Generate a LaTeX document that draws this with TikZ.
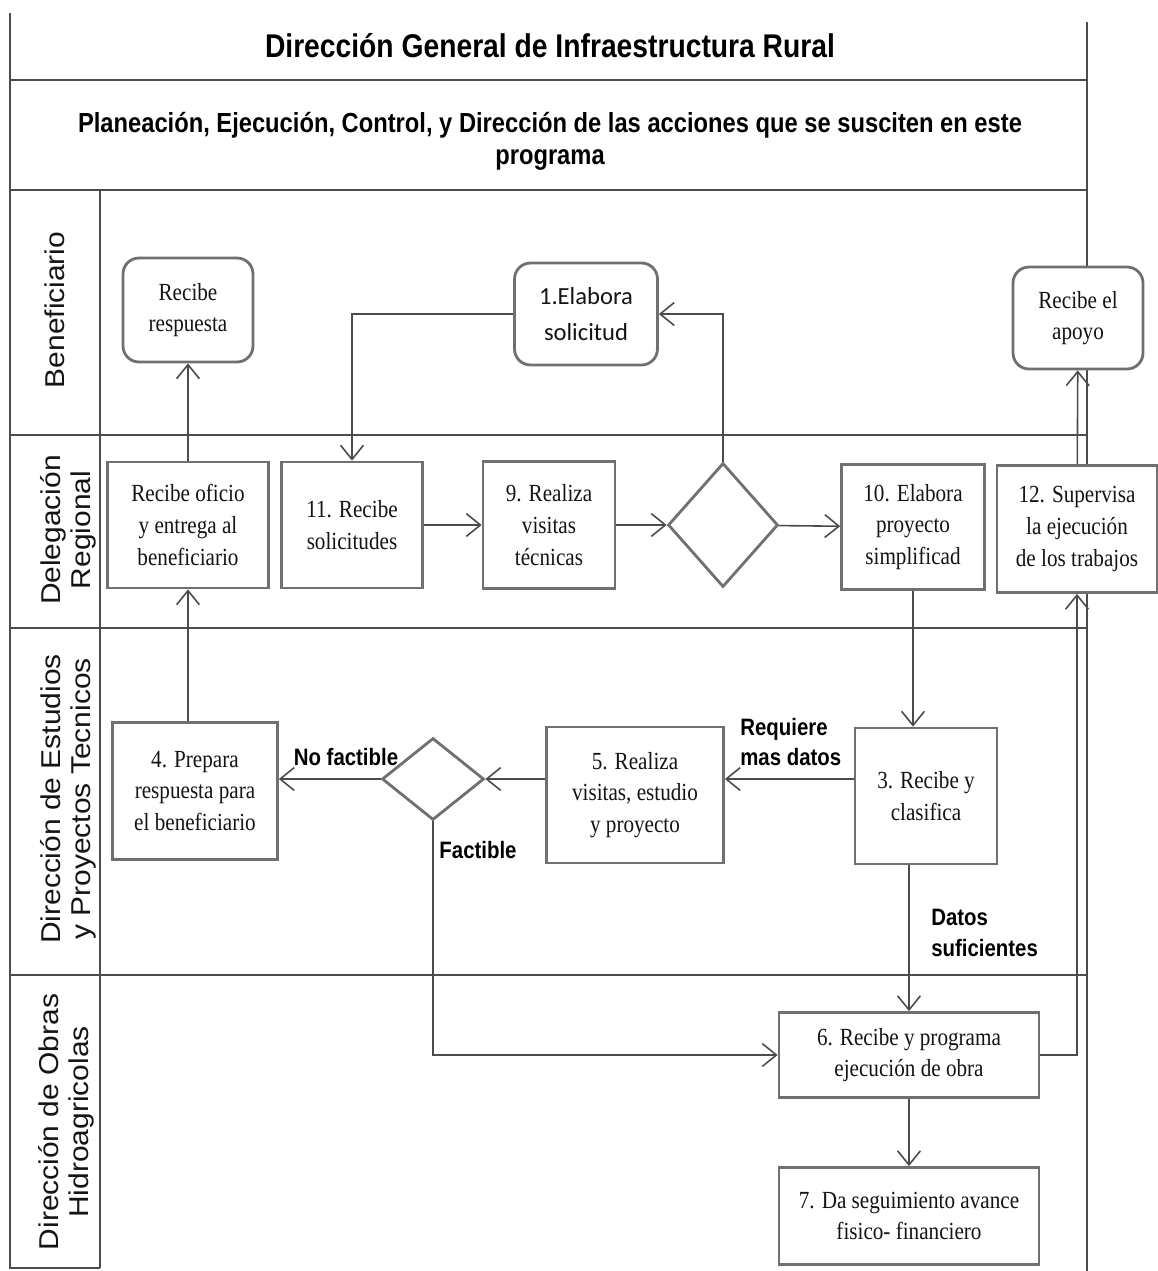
\documentclass[tikz,border=0pt]{standalone}
\usepackage{fontspec}
\setmainfont{Liberation Serif}
\newfontfamily\cajafont[FakeStretch=0.86]{Liberation Serif}
\newfontfamily\rotfont[FakeStretch=0.86]{Liberation Sans}
\newfontfamily\carrilfont[FakeStretch=1.1]{Liberation Sans}
\newfontfamily\calfont{Carlito}
\usetikzlibrary{shapes.geometric,arrows.meta}
\definecolor{bordegris}{RGB}{112,112,112}
\definecolor{lineagris}{RGB}{75,75,75}
\definecolor{textogris}{RGB}{20,20,20}
\tikzset{
  paso/.style={draw=bordegris, fill=white, line width=1.6pt, align=center, text=textogris,
    font=\cajafont\fontsize{14}{18}\selectfont, inner sep=2pt},
  pasor/.style={paso, rounded corners=0.32cm},
  decision/.style={draw=bordegris, fill=white, line width=1.6pt, diamond, inner sep=0pt},
  flecha/.style={draw=lineagris, line width=0.9pt,
    -{Straight Barb[length=8pt,width=13pt]}},
  carril/.style={rotate=90, align=center, text=textogris,
    font=\carrilfont\fontsize{15.5}{17}\selectfont},
  etiqueta/.style={font=\rotfont\bfseries\fontsize{13.5}{17.5}\selectfont,
    align=left, inner sep=0pt},
  marco/.style={draw=lineagris, line width=1.2pt}
}
\begin{document}
\begin{tikzpicture}[x=0.02cm, y=-0.02cm]
\useasboundingbox (0,0) rectangle (1157,1271);
% marco y carriles
\draw[marco] (10,13) -- (10,1268) -- (100,1268);
\draw[marco] (1087,22) -- (1087,1271);
\foreach \yy in {80,190,435,628,975}
  \draw[marco] (10,\yy) -- (1087,\yy);
\draw[marco] (100,190) -- (100,1268);

% encabezado
\node[font=\rotfont\bfseries\fontsize{18.7}{22}\selectfont] (titulo) at (550,46)
  {Dirección General de Infraestructura Rural};
\node[align=center, font=\rotfont\bfseries\fontsize{15.7}{18.2}\selectfont] (subtitulo) at (550,141)
  {Planeación, Ejecución, Control, y Dirección de las acciones que se susciten en este\\programa};

% nombres de carriles
\node[carril] (lbenef) at (55,310) {Beneficiario};
\node[carril] (ldeleg) at (68,530) {Delegación\\Regional};
\node[carril] (lestud) at (68,799) {Dirección de Estudios\\y Proyectos Tecnicos};
\node[carril] (lobras) at (66,1122) {Dirección de Obras\\Hidroagricolas};

% Beneficiario
\node[pasor, minimum width=2.6cm, minimum height=2.08cm] (respuesta) at (188,310) {Recibe\\respuesta};
\node[pasor, minimum width=2.86cm, minimum height=2.04cm,
  font=\calfont\fontsize{14}{21}\selectfont] (solicitud) at (586,314) {1.Elabora\\solicitud};
\node[pasor, minimum width=2.6cm, minimum height=2.04cm] (apoyo) at (1078,318) {Recibe el\\apoyo};

% Delegacion Regional
\node[paso, minimum width=3.22cm, minimum height=2.52cm] (oficio) at (188,525) {Recibe oficio\\y entrega al\\beneficiario};
\node[paso, minimum width=2.82cm, minimum height=2.52cm] (recibe11) at (352,525) {11. Recibe\\solicitudes};
\node[paso, minimum width=2.64cm, minimum height=2.54cm] (visitas9) at (549,525) {9. Realiza\\visitas\\técnicas};
\node[decision, minimum width=2.2cm, minimum height=2.48cm] (dec1) at (723,525) {};
\node[paso, minimum width=2.86cm, minimum height=2.5cm] (proy10) at (913,527) {10. Elabora\\proyecto\\simplificad};
\node[paso, minimum width=3.2cm, minimum height=2.54cm] (super12) at (1077,529) {12. Supervisa\\la ejecución\\de los trabajos};

% Direccion de Estudios
\node[paso, minimum width=3.3cm, minimum height=2.74cm] (prepara) at (195,791) {4. Prepara\\respuesta para\\el beneficiario};
\node[decision, minimum width=2.04cm, minimum height=1.64cm] (dec2) at (433,779) {};
\node[paso, minimum width=3.54cm, minimum height=2.72cm] (visitas5) at (635,795) {5. Realiza\\visitas, estudio\\y proyecto};
\node[paso, minimum width=2.84cm, minimum height=2.72cm] (clasif) at (926,796) {3. Recibe y\\clasifica};

% Direccion de Obras
\node[paso, minimum width=5.2cm, minimum height=1.7cm] (obra6) at (909,1055) {6. Recibe y programa\\ejecución de obra};
\node[paso, minimum width=5.2cm, minimum height=1.94cm] (segui7) at (909,1216) {7. Da seguimiento avance\\fisico- financiero};

% etiquetas
\node[etiqueta] (nofact) at (346,757) {No factible};
\node[etiqueta] (fact) at (478,850) {Factible};
\node[etiqueta, anchor=west] (masdatos) at (740,742) {Requiere\\mas datos};
\node[etiqueta, anchor=west] (suficientes) at (931,933) {Datos\\suficientes};

% conectores
\draw[flecha] (oficio) -- (respuesta);
\draw[flecha] (prepara.north -| oficio) -- (oficio);
\draw[flecha] (solicitud.west) -| (recibe11);
\draw[flecha] (recibe11) -- (visitas9);
\draw[flecha] (visitas9) -- (dec1);
\draw[flecha] (dec1.north) |- (solicitud.east);
\draw[flecha] (dec1) -- (proy10);
\draw[flecha] (proy10) -- (proy10 |- clasif.north);
\draw[flecha] (clasif.west |- dec2) -- (visitas5.east |- dec2);
\draw[flecha] (visitas5.west |- dec2) -- (dec2);
\draw[flecha] (dec2.west) -- (dec2.west -| prepara.east);
\draw[flecha] (dec2.south) |- (obra6);
\draw[flecha] (clasif.south -| obra6) -- (obra6);
\draw[flecha] (obra6) -- (segui7);
\draw[flecha] (obra6.east) -| (super12);
\draw[flecha] (super12) -- (apoyo);
\end{tikzpicture}
\end{document}
